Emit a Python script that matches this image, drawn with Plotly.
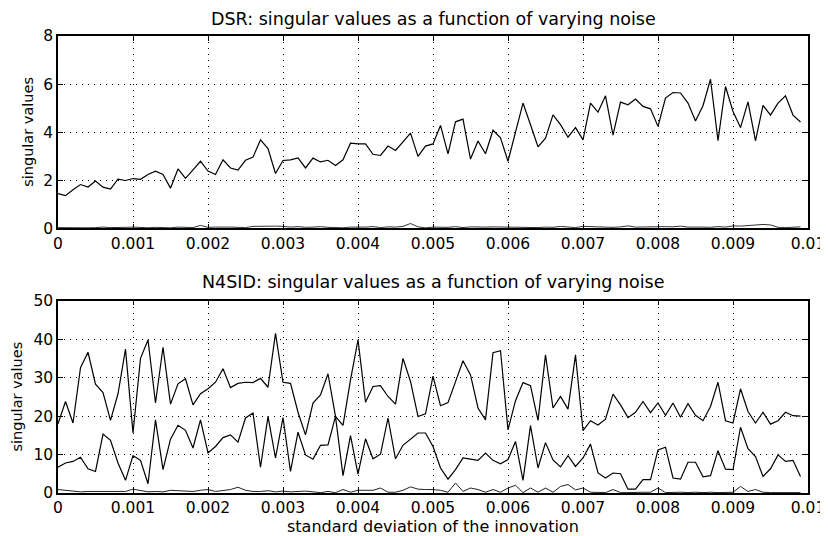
import plotly.graph_objects as go

# noise standard deviation (x), 100 steps of 1e-4
noise_std = [round(0.0001 * i, 4) for i in range(100)]

x_tick_vals = [0, 0.001, 0.002, 0.003, 0.004, 0.005, 0.006, 0.007, 0.008, 0.009, 0.01]
x_tick_text = ["0", "0.001", "0.002", "0.003", "0.004", "0.005", "0.006", "0.007", "0.008", "0.009", "0.01"]
dsr_y_ticks = [0, 2, 4, 6, 8]
n4sid_y_ticks = [0, 10, 20, 30, 40, 50]

dsr_sv1 = [1.44, 1.36, 1.60, 1.82, 1.72, 1.97, 1.71, 1.63, 2.04, 1.99,
           2.07, 2.04, 2.24, 2.38, 2.24, 1.67, 2.47, 2.08, 2.43, 2.79,
           2.38, 2.24, 2.85, 2.51, 2.42, 2.83, 2.96, 3.68, 3.32, 2.28,
           2.82, 2.85, 2.93, 2.51, 2.92, 2.76, 2.83, 2.61, 2.85, 3.54,
           3.51, 3.51, 3.08, 3.03, 3.42, 3.24, 3.60, 3.96, 2.99, 3.42,
           3.51, 4.28, 3.10, 4.43, 4.54, 2.88, 3.63, 3.10, 4.08, 3.76,
           2.79, 4.00, 5.21, 4.31, 3.39, 3.75, 4.72, 4.31, 3.79, 4.19,
           3.68, 5.21, 4.83, 5.51, 3.88, 5.25, 5.14, 5.38, 5.07, 4.97,
           4.24, 5.42, 5.65, 5.63, 5.21, 4.46, 5.10, 6.20, 3.65, 5.90,
           4.86, 4.19, 5.26, 3.64, 5.11, 4.71, 5.21, 5.51, 4.71, 4.42]

dsr_sv2 = [0.03, 0.02, 0.04, 0.03, 0.02, 0.03, 0.05, 0.03, 0.02, 0.04,
           0.05, 0.03, 0.02, 0.04, 0.03, 0.02, 0.05, 0.04, 0.03, 0.12,
           0.04, 0.05, 0.06, 0.05, 0.04, 0.03, 0.08, 0.09, 0.08, 0.09,
           0.08, 0.05, 0.07, 0.04, 0.05, 0.07, 0.04, 0.03, 0.02, 0.05,
           0.04, 0.05, 0.07, 0.03, 0.06, 0.05, 0.08, 0.20, 0.06, 0.02,
           0.05, 0.03, 0.04, 0.07, 0.03, 0.06, 0.04, 0.05, 0.06, 0.05,
           0.07, 0.03, 0.04, 0.02, 0.03, 0.05, 0.04, 0.08, 0.05, 0.03,
           0.08, 0.07, 0.03, 0.05, 0.04, 0.06, 0.10, 0.05, 0.06, 0.04,
           0.08, 0.07, 0.06, 0.09, 0.05, 0.06, 0.05, 0.04, 0.07, 0.05,
           0.10, 0.09, 0.12, 0.15, 0.16, 0.14, 0.04, 0.03, 0.05, 0.06]

n4sid_sv1 = [18.0, 23.8, 18.2, 32.6, 36.6, 28.3, 26.1, 18.9, 25.8, 37.4,
             15.6, 35.0, 39.8, 23.4, 37.9, 23.1, 28.4, 29.7, 22.9, 25.8,
             27.1, 28.8, 32.3, 27.4, 28.5, 28.8, 28.7, 29.8, 27.5, 41.5,
             28.8, 28.5, 21.0, 15.1, 23.4, 25.5, 31.0, 19.9, 17.6, 29.4,
             39.8, 23.6, 27.7, 27.9, 25.1, 23.1, 35.0, 29.0, 19.9, 20.6,
             30.4, 22.7, 23.5, 29.0, 34.4, 30.7, 22.1, 19.0, 36.5, 37.0,
             16.4, 24.0, 28.7, 27.9, 18.9, 35.9, 22.1, 25.1, 21.8, 35.9,
             16.2, 18.8, 17.7, 19.2, 25.7, 22.9, 19.6, 21.0, 23.8, 20.9,
             23.4, 20.2, 23.4, 19.7, 23.2, 20.2, 18.8, 22.5, 28.8, 18.8,
             18.2, 27.1, 21.2, 18.2, 21.0, 17.9, 18.8, 21.0, 20.1, 20.0]

n4sid_sv2 = [6.7, 7.8, 8.2, 9.3, 6.3, 5.6, 15.3, 13.7, 7.8, 3.3,
             9.7, 8.5, 2.4, 19.0, 6.1, 14.0, 17.6, 16.3, 11.7, 19.0,
             10.4, 12.1, 14.4, 15.1, 13.2, 19.5, 20.8, 6.7, 19.9, 9.1,
             19.6, 5.6, 15.8, 9.9, 8.8, 12.4, 12.5, 19.9, 4.5, 14.9,
             4.9, 14.1, 8.9, 10.1, 19.5, 8.9, 12.4, 14.1, 15.6, 15.6,
             12.1, 6.5, 3.6, 6.1, 9.1, 8.8, 8.5, 10.4, 8.5, 7.6,
             8.7, 13.4, 3.3, 17.5, 6.5, 13.1, 8.6, 6.8, 9.7, 6.9,
             9.1, 12.7, 5.2, 3.9, 5.2, 5.0, 1.0, 1.0, 3.5, 3.5,
             11.2, 11.9, 3.9, 3.6, 8.0, 8.0, 4.2, 4.5, 11.0, 6.2,
             6.1, 17.1, 11.5, 9.5, 4.3, 6.3, 9.9, 8.2, 8.5, 4.3]

n4sid_sv3 = [0.9, 0.7, 0.4, 0.3, 0.4, 0.4, 0.3, 0.35, 0.4, 0.4,
             1.0, 0.6, 0.3, 0.4, 0.3, 0.7, 0.6, 0.4, 0.4, 0.7,
             0.9, 0.4, 0.7, 0.9, 1.5, 0.7, 0.4, 0.4, 0.6, 0.3,
             0.5, 0.3, 0.4, 0.5, 0.3, 0.1, 0.4, 0.1, 0.9, 0.2,
             0.7, 0.7, 0.7, 1.3, 0.2, 0.2, 0.7, 1.6, 1.0, 0.9,
             0.9, 0.7, 0.2, 2.6, 0.4, 1.3, 0.9, 0.2, 0.9, 0.2,
             1.3, 2.0, 0.1, 1.3, 0.2, 1.3, 0.2, 1.7, 2.2, 0.8,
             1.3, 0.2, 0.1, 0.1, 0.9, 0.1, 0.1, 0.2, 0.2, 0.2,
             1.3, 0.1, 0.2, 0.2, 0.1, 0.2, 0.1, 0.2, 0.1, 0.2,
             0.2, 1.7, 0.4, 0.9, 0.2, 0.1, 0.1, 0.2, 0.1, 0.1]

FONT = "DejaVu Sans"
OFF = 8  # page body margin offset
W, H = 828 - OFF, 536 - OFF
# target page-pixel positions
PLOT_L, PLOT_R = 58.3, 808.3
TOP_T, TOP_B = 36.0, 228.3
BOT_T, BOT_B = 300.7, 493.0

ML = PLOT_L - OFF
MR = 828 - PLOT_R
MT = TOP_T - OFF
MB = 536 - BOT_B
PW, PH = W - ML - MR, H - MT - MB


def px_x(p):
    return (p - OFF - ML) / PW


def px_y(p):
    return (H - MB - (p - OFF)) / PH


fig = go.Figure()


def add_line(y, xa, ya, width=1.2, color="#000"):
    fig.add_trace(go.Scatter(x=noise_std, y=y, mode="lines", xaxis=xa, yaxis=ya,
                             line=dict(color=color, width=width), showlegend=False,
                             hoverinfo="skip"))


add_line(dsr_sv1, "x", "y")
add_line(dsr_sv2, "x", "y", width=1.0, color="#333")
add_line(n4sid_sv1, "x2", "y2")
add_line(n4sid_sv2, "x2", "y2")
add_line(n4sid_sv3, "x2", "y2", width=1.0, color="#222")

common_x = dict(range=[0, 0.01], tickvals=x_tick_vals, ticktext=x_tick_text,
                showgrid=True, gridcolor="#000", gridwidth=1, griddash="1px,5px",
                showline=True, linecolor="#000", linewidth=1.5, mirror="ticks",
                ticks="inside", ticklen=5, tickcolor="#000", zeroline=False,
                tickfont=dict(family=FONT, size=15.5, color="#000"),
                ticklabelstandoff=0, automargin=False)
common_y = dict(showgrid=True, gridcolor="#000", gridwidth=1, griddash="1px,5px",
                showline=True, linecolor="#000", linewidth=1.5, mirror="ticks",
                ticks="inside", ticklen=5, tickcolor="#000", zeroline=False,
                tickfont=dict(family=FONT, size=15.5, color="#000"),
                automargin=False)

TOP_DOM = [px_y(TOP_B), px_y(TOP_T)]
BOT_DOM = [px_y(BOT_B), px_y(BOT_T)]

fig.update_layout(
    width=W, height=H,
    margin=dict(l=ML, r=MR, t=MT, b=MB, pad=0, autoexpand=False),
    paper_bgcolor="white", plot_bgcolor="white",
    xaxis=dict(common_x, domain=[0, 1], anchor="y"),
    yaxis=dict(common_y, domain=TOP_DOM, anchor="x", range=[0, 8],
               tickvals=dsr_y_ticks),
    xaxis2=dict(common_x, domain=[0, 1], anchor="y2"),
    yaxis2=dict(common_y, domain=BOT_DOM, anchor="x2", range=[0, 50],
                tickvals=n4sid_y_ticks),
    annotations=[
        dict(text="DSR: singular values as a function of varying noise",
             xref="paper", yref="paper", x=0.5, y=px_y(19),
             xanchor="center", yanchor="middle", showarrow=False,
             font=dict(family=FONT, size=17.5, color="#000")),
        dict(text="N4SID: singular values as a function of varying noise",
             xref="paper", yref="paper", x=0.5, y=px_y(282),
             xanchor="center", yanchor="middle", showarrow=False,
             font=dict(family=FONT, size=17.5, color="#000")),
        dict(text="standard deviation of the innovation",
             xref="paper", yref="paper", x=0.5, y=px_y(526),
             xanchor="center", yanchor="middle", showarrow=False,
             font=dict(family=FONT, size=16, color="#000")),
        dict(text="singular values", textangle=-90,
             xref="paper", yref="paper", x=px_x(28), y=sum(TOP_DOM) / 2,
             xanchor="center", yanchor="middle", showarrow=False,
             font=dict(family=FONT, size=14.5, color="#000")),
        dict(text="singular values", textangle=-90,
             xref="paper", yref="paper", x=px_x(17), y=sum(BOT_DOM) / 2,
             xanchor="center", yanchor="middle", showarrow=False,
             font=dict(family=FONT, size=14.5, color="#000")),
    ],
)

fig.write_html("out.html")
